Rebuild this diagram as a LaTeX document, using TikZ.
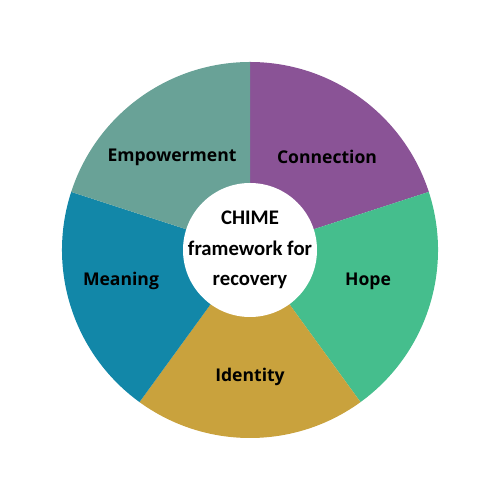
\documentclass[tikz,border=0pt]{standalone}
\usepackage{fontspec}
\setmainfont{Open Sans}
\newfontfamily\hubfont{Carlito}
\usetikzlibrary{calc}
\definecolor[named]{CHIMEPurple}{HTML}{8A5396}
\definecolor[named]{CHIMEGreen}{HTML}{45BE8D}
\definecolor[named]{CHIMEGold}{HTML}{C9A23D}
\definecolor[named]{CHIMEBlue}{HTML}{1287A8}
\definecolor[named]{CHIMESage}{HTML}{69A297}
\tikzset{sectortext/.style={font=\fontsize{10}{16}\selectfont\bfseries, text=black, align=center}}
\tikzset{hubtext/.style={font=\hubfont\fontsize{11.8}{17.5}\selectfont\bfseries, text=black, align=center}}

\begin{document}
\begin{tikzpicture}[scale=0.02]
      \useasboundingbox (-250,-250) rectangle (250,250);
      \fill[CHIMEPurple] (0,0) -- (90:188) arc (90:18:188) -- cycle;
      \fill[CHIMEGreen] (0,0) -- (18:188) arc (18:-54:188) -- cycle;
      \fill[CHIMEGold] (0,0) -- (-54:188) arc (-54:-126:188) -- cycle;
      \fill[CHIMEBlue] (0,0) -- (-126:188) arc (-126:-198:188) -- cycle;
      \fill[CHIMESage] (0,0) -- (162:188) arc (162:90:188) -- cycle;
      \fill[white] (0,0) circle (67);
      \node[hubtext] (hub) at (0,0) {CHIME\\framework for\\recovery};
      \node[sectortext] (connection) at (77,93) {Connection};
      \node[sectortext] (hope) at (118,-31) {Hope};
      \node[sectortext] (identity) at (0,-127) {Identity};
      \node[sectortext] (meaning) at (-129,-31) {Meaning};
      \node[sectortext] (empowerment) at (-78,93) {Empowerment};
    \end{tikzpicture}
\end{document}
